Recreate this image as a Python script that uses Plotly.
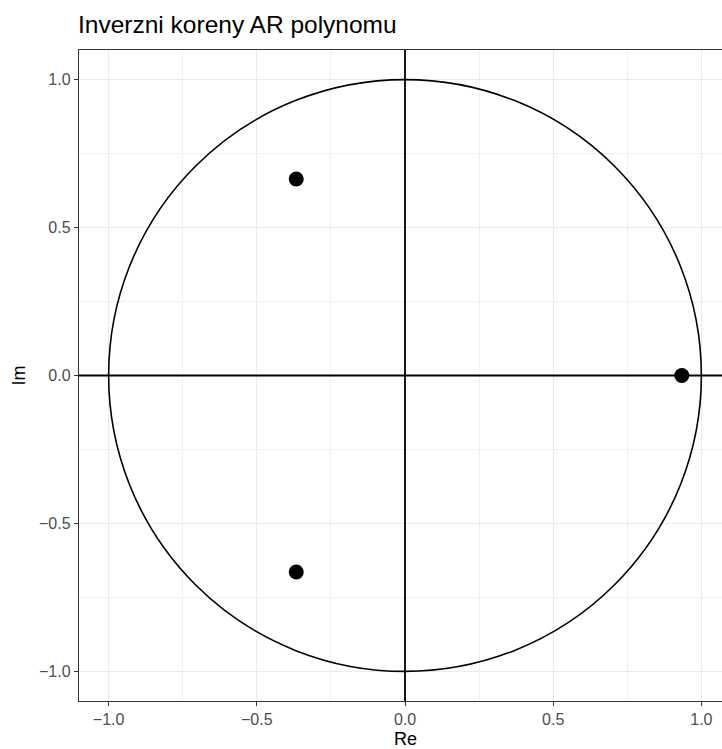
import plotly.graph_objects as go

# Data: inverse roots of AR polynomial
root_re = [-0.367, -0.367, 0.934]
root_im = [0.664, -0.664, 0.0]

title_text = "Inverzni koreny AR polynomu"
x_label = "Re"
y_label = "Im"
tick_vals = [-1.0, -0.5, 0.0, 0.5, 1.0]
unit_radius = 1.0

FONT = "Liberation Sans, Arial, sans-serif"
GRID = "#EBEBEB"

fig = go.Figure()
fig.add_trace(go.Scatter(
    x=root_re, y=root_im, mode="markers",
    marker=dict(size=15, color="black", line=dict(width=0)),
    showlegend=False, hoverinfo="x+y",
))

# unit circle and axes lines at 0
fig.add_shape(type="circle", xref="x", yref="y",
              x0=-unit_radius, y0=-unit_radius, x1=unit_radius, y1=unit_radius,
              line=dict(color="black", width=1.6), layer="above")
fig.add_shape(type="line", xref="paper", yref="y", x0=0, x1=1, y0=0, y1=0,
              line=dict(color="black", width=1.8), layer="above")
fig.add_shape(type="line", xref="x", yref="paper", x0=0, x1=0, y0=0, y1=1,
              line=dict(color="black", width=1.8), layer="above")

axis_common = dict(
    tickvals=tick_vals, tickformat=".1f",
    showgrid=True, gridcolor=GRID, gridwidth=1.4,
    zeroline=False,
    showline=True, linecolor="#333333", linewidth=1.4,
    ticks="outside", ticklen=4, tickwidth=1.2, tickcolor="#333333",
    tickfont=dict(family=FONT, size=16, color="#4D4D4D"),
    minor=dict(dtick=0.25, tick0=0, showgrid=True, gridcolor="#F1F1F1", gridwidth=0.8, ticks=""),
)

fig.update_xaxes(range=[-1.1, 1.0696], mirror=True, **axis_common)
fig.update_yaxes(range=[-1.1, 1.1], mirror=False, **axis_common)

fig.add_annotation(text=x_label, xref="x", yref="paper", x=0, y=0, yshift=-26,
                   xanchor="center", yanchor="top", showarrow=False,
                   font=dict(family=FONT, size=18, color="black"))
fig.add_annotation(text=y_label, xref="paper", yref="y", x=0, y=0, xshift=-61,
                   xanchor="center", yanchor="middle", textangle=-90, showarrow=False,
                   font=dict(family=FONT, size=18, color="black"))

fig.update_layout(
    width=722, height=749,
    margin=dict(l=79, r=0, t=50, b=48),
    plot_bgcolor="white", paper_bgcolor="white",
    title=dict(text=title_text, x=78/722, xanchor="left", xref="container",
               y=1 - 16/749, yanchor="top", yref="container",
               font=dict(family=FONT, size=24.5, color="black")),
)

fig.write_html("out.html", config={"displayModeBar": False},
               post_script="document.body.style.margin='0';")
